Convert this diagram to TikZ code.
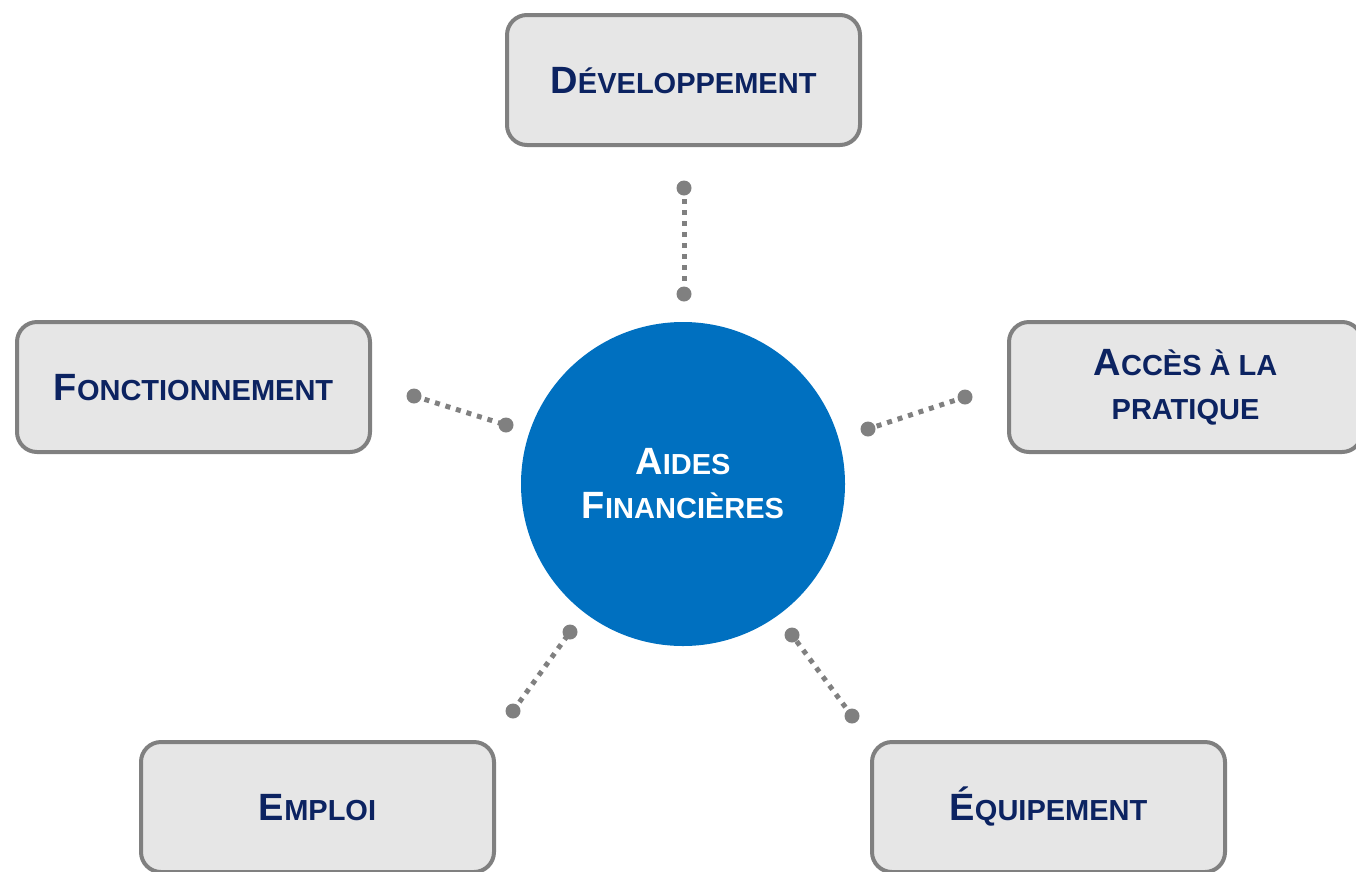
\documentclass[tikz,border=0pt]{standalone}
\usepackage{fontspec}
\setmainfont{Liberation Sans}
\definecolor{boxgray}{HTML}{E6E6E6}
\definecolor{framegray}{HTML}{808080}
\definecolor{navytext}{HTML}{0C2361}
\definecolor{hubblue}{HTML}{0070C0}
\newcommand{\capword}[2]{{\fontsize{38pt}{44pt}\selectfont #1}#2}
\tikzset{
  themebox/.style={rectangle, rounded corners=20pt, draw=framegray, line width=4pt,
    fill=boxgray, minimum width=353pt, minimum height=130pt, inner sep=0pt,
    text=navytext, align=center, font=\bfseries\fontsize{29pt}{44pt}\selectfont},
  oneline/.style={text height=27pt, text depth=0pt},
  hub/.style={circle, fill=hubblue, minimum size=324pt, inner sep=0pt, text=white,
    align=center, font=\bfseries\fontsize{29pt}{44pt}\selectfont},
  link/.style={draw=framegray, line width=5pt, dash pattern=on 5pt off 6pt},
  linkend/.style={fill=framegray}
}
\begin{document}
\begin{tikzpicture}[x=1pt,y=-1pt]
\useasboundingbox (0,0) rectangle (1356,871);
\clip (0,0) rectangle (1356,871);
% centre
\node [hub] (aides) at (683,484) {\capword{A}{IDES}\\\capword{F}{INANCIÈRES}};
% themes
\node [themebox,oneline] (dev) at (683.5,80) {\capword{D}{ÉVELOPPEMENT}};
\node [themebox,oneline] (fonc) at (193.5,387) {\capword{F}{ONCTIONNEMENT}};
\node [themebox] (acces) at (1185.5,387) {\capword{A}{CCÈS À LA}\\PRATIQUE};
\node [themebox,oneline] (emploi) at (317.5,807) {\capword{E}{MPLOI}};
\node [themebox,oneline] (equip) at (1048.5,807) {\capword{É}{QUIPEMENT}};
% connector ends
\coordinate (devA) at (684,188);
\coordinate (devB) at (684,294);
\coordinate (foncA) at (414,396);
\coordinate (foncB) at (506,425);
\coordinate (accesA) at (965,397);
\coordinate (accesB) at (868,429);
\coordinate (emploiA) at (513,711);
\coordinate (emploiB) at (570,632);
\coordinate (equipA) at (852,716);
\coordinate (equipB) at (792,635);
\foreach \p in {dev,fonc,acces,emploi,equip}{
  \draw [link] (\p A) -- (\p B);
  \fill [linkend] (\p A) circle (7.5pt);
  \fill [linkend] (\p B) circle (7.5pt);
}
\end{tikzpicture}
\end{document}
